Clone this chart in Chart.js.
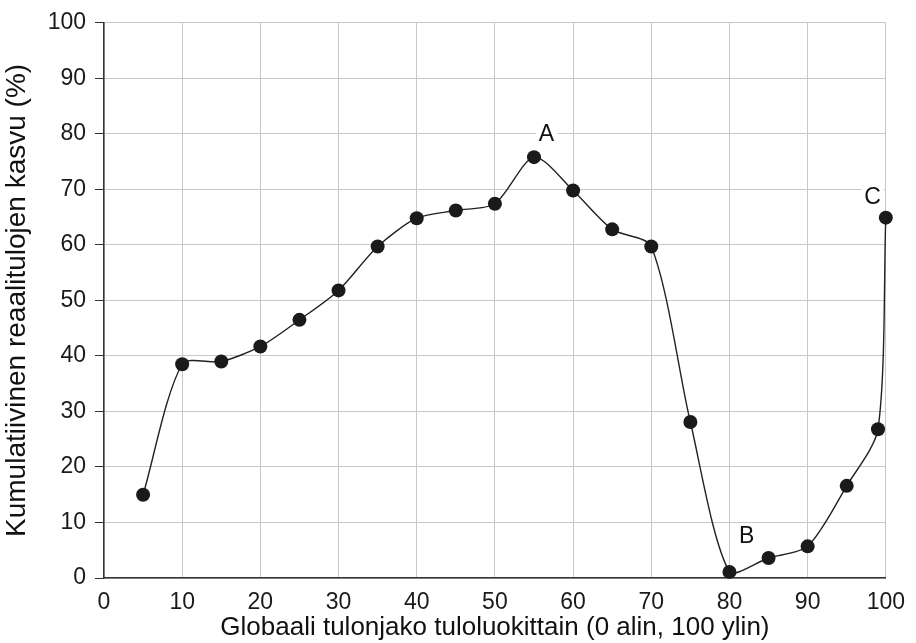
<!DOCTYPE html>
<html>
<head>
<meta charset="utf-8">
<script src="https://cdn.jsdelivr.net/npm/chart.js@4"></script>
<style>
  html, body { margin: 0; padding: 0; background: #fff; }
  #wrap { width: 916px; height: 643px; position: relative; }
</style>
</head>
<body>
<div id="wrap"><canvas id="c" width="916" height="643"></canvas></div>
<script>
// Data
const percentiles = [5, 10, 15, 20, 25, 30, 35, 40, 45, 50, 55, 60, 65, 70, 75, 80, 85, 90, 95, 99, 100];
const growth = [15.0, 38.5, 39.0, 41.7, 46.5, 51.8, 59.7, 64.8, 66.2, 67.4, 75.8, 69.8, 62.8, 59.7, 28.1, 1.1, 3.6, 5.7, 16.6, 26.8, 64.9];
const xTicks = [0, 10, 20, 30, 40, 50, 60, 70, 80, 90, 100];
const yTicks = [0, 10, 20, 30, 40, 50, 60, 70, 80, 90, 100];
const labelTexts = ['A', 'B', 'C'];
const labelX = [56.6, 82.2, 98.3];
const labelY = [80.0, 7.7, 68.7];
const xTitle = 'Globaali tulonjako tuloluokittain (0 alin, 100 ylin)';
const yTitle = 'Kumulatiivinen reaalitulojen kasvu (%)';

const FONT = "'Liberation Sans', Arial, Helvetica, sans-serif";

const letterPlugin = {
  id: 'letters',
  afterDatasetsDraw(chart) {
    const ctx = chart.ctx;
    const xs = chart.scales.x, ys = chart.scales.y;
    ctx.save();
    ctx.font = '23px ' + FONT;
    ctx.textAlign = 'center';
    ctx.textBaseline = 'middle';
    labelTexts.forEach((t, i) => {
      const px = xs.getPixelForValue(labelX[i]);
      const py = ys.getPixelForValue(labelY[i]);
      const w = ctx.measureText(t).width;
      ctx.fillStyle = '#fff';
      ctx.fillRect(px - w / 2 - 3, py - 11, w + 6, 22);
      ctx.fillStyle = '#111';
      ctx.fillText(t, px, py + 1);
    });
    ctx.restore();
  }
};

new Chart(document.getElementById('c'), {
  type: 'line',
  data: {
    datasets: [{
      data: percentiles.map((p, i) => ({ x: p, y: growth[i] })),
      borderColor: '#222',
      borderWidth: 1.4,
      backgroundColor: '#1a1a1a',
      pointBackgroundColor: '#1a1a1a',
      pointBorderColor: '#1a1a1a',
      pointRadius: 7,
      pointBorderWidth: 0,
      tension: 0.27,
      fill: false,
      clip: 12
    }]
  },
  options: {
    responsive: false,
    animation: false,
    devicePixelRatio: 1,
    layout: { padding: { top: 17, right: 30, left: 0, bottom: 0 } },
    plugins: { legend: { display: false }, tooltip: { enabled: false } },
    scales: {
      x: {
        type: 'linear',
        min: 0, max: 100,
        afterBuildTicks: s => { s.ticks = xTicks.map(v => ({ value: v })); },
        afterFit: s => { s.height = 65; },
        grid: { color: '#c8c8c8', lineWidth: 1, drawTicks: false },
        border: { color: '#333', width: 1.5 },
        ticks: { color: '#1a1a1a', font: { family: FONT, size: 23 }, padding: 11, maxRotation: 0 },
        title: { display: true, text: xTitle, color: '#111', font: { family: FONT, size: 26 }, padding: { top: 1, bottom: 0 } }
      },
      y: {
        type: 'linear',
        min: 0, max: 100,
        afterBuildTicks: s => { s.ticks = yTicks.map(v => ({ value: v })); },
        afterFit: s => { s.width = 104; },
        grid: { color: '#c8c8c8', lineWidth: 1, drawTicks: true, tickLength: 9, tickColor: '#333' },
        border: { color: '#333', width: 1.5 },
        ticks: { color: '#1a1a1a', font: { family: FONT, size: 23 }, padding: 9 },
        title: { display: true, text: yTitle, color: '#111', font: { family: FONT, size: 28 }, padding: { top: 0, bottom: 2 } }
      }
    }
  },
  plugins: [letterPlugin]
});
</script>
</body>
</html>
